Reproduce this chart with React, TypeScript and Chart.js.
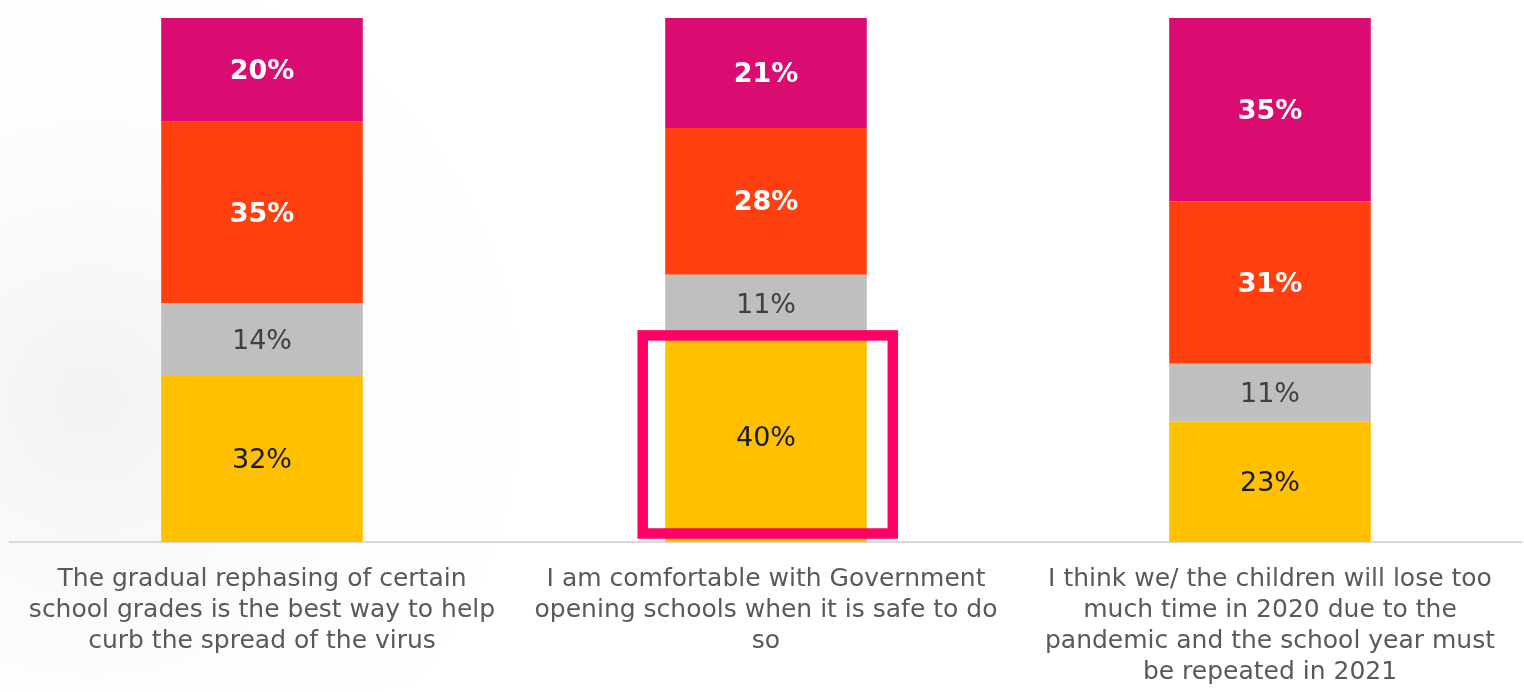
import React, { useEffect, useRef } from "react";
import { Chart, registerables } from "chart.js";

Chart.register(...registerables);

const categories: string[][] = [
  ["The gradual rephasing of certain", "school grades is the best way to help", "curb the spread of the virus"],
  ["I am comfortable with Government", "opening schools when it is safe to do", "so"],
  ["I think we/ the children will lose too", "much time in 2020 due to the", "pandemic and the school year must", "be repeated in 2021"],
];

const yellowValues = [32, 40, 23];
const grayValues = [14, 11, 11];
const orangeValues = [35, 28, 31];
const magentaValues = [20, 21, 35];

const seriesNames = ["Yellow", "Grey", "Orange", "Magenta"];
const seriesColors = ["#FFC000", "#BFBFBF", "#FF3F10", "#DA0C72"];
const labelColors = ["#1A1A1A", "#404040", "#FFFFFF", "#FFFFFF"];
const labelBold = [false, false, true, true];

const highlightCategory = 1;
const highlightSeries = 0;

const FONT = "'DejaVu Sans', 'Noto Sans', sans-serif";

export default function App() {
  const ref = useRef<HTMLCanvasElement | null>(null);

  useEffect(() => {
    document.body.style.margin = "0";
    const raw = [yellowValues, grayValues, orangeValues, magentaValues];
    const totals = categories.map((_, i) => raw.reduce((s, arr) => s + arr[i], 0));

    const bgPlugin = {
      id: "bg",
      beforeDraw(chart: any) {
        const { ctx, width, height } = chart;
        ctx.save();
        ctx.fillStyle = "#FFFFFF";
        ctx.fillRect(0, 0, width, height);
        const g = ctx.createRadialGradient(90, 400, 20, 90, 400, 480);
        g.addColorStop(0, "rgba(228,228,228,0.45)");
        g.addColorStop(1, "rgba(255,255,255,0)");
        ctx.fillStyle = g;
        ctx.fillRect(0, 0, width, height);
        ctx.restore();
      },
    };

    const labelPlugin = {
      id: "segLabels",
      afterDatasetsDraw(chart: any) {
        const { ctx } = chart;
        ctx.save();
        ctx.textAlign = "center";
        ctx.textBaseline = "middle";
        chart.data.datasets.forEach((ds: any, di: number) => {
          const meta = chart.getDatasetMeta(di);
          meta.data.forEach((el: any, i: number) => {
            const v = raw[di][i];
            ctx.fillStyle = labelColors[di];
            ctx.font = `${labelBold[di] ? "bold " : ""}27px ${FONT}`;
            ctx.fillText(`${v}%`, el.x, (el.y + el.base) / 2 + 2);
          });
        });
        const el = chart.getDatasetMeta(highlightSeries).data[highlightCategory];
        if (el) {
          const half = el.width / 2;
          const left = el.x - half - 22.5;
          const right = el.x + half + 26;
          const top = el.y + 3;
          const bottom = el.base - 8.5;
          ctx.strokeStyle = "#FF0066";
          ctx.lineWidth = 10.5;
          ctx.strokeRect(left, top, right - left, bottom - top);
        }
        ctx.restore();
      },
    };

    const chart = new Chart(ref.current as HTMLCanvasElement, {
      type: "bar",
      data: {
        labels: categories as any,
        datasets: raw.map((arr, di) => ({
          label: seriesNames[di],
          data: arr.map((v, i) => (v / totals[i]) * 100),
          backgroundColor: seriesColors[di],
          borderWidth: 0,
          barPercentage: 0.4,
          categoryPercentage: 1,
        })),
      },
      options: {
        animation: false,
        responsive: true,
        maintainAspectRatio: false,
        layout: { padding: { left: 10, right: 2, top: 18, bottom: 0 } },
        plugins: { legend: { display: false }, tooltip: { enabled: false } },
        scales: {
          x: {
            stacked: true,
            grid: { display: false },
            border: { display: true, color: "#D9D9D9", width: 2 },
            ticks: {
              color: "#595959",
              font: { family: FONT, size: 25, lineHeight: 31 / 25 },
              padding: 14,
              autoSkip: false,
              maxRotation: 0,
              minRotation: 0,
            },
            afterFit(scale: any) {
              scale.height = 150;
            },
          },
          y: {
            stacked: true,
            display: false,
            min: 0,
            max: 100,
          },
        },
      },
      plugins: [bgPlugin, labelPlugin],
    });
    return () => chart.destroy();
  }, []);

  return (
    <div style={{ position: "absolute", left: 0, top: 0, width: 1524, height: 692 }}>
      <canvas ref={ref} />
    </div>
  );
}
